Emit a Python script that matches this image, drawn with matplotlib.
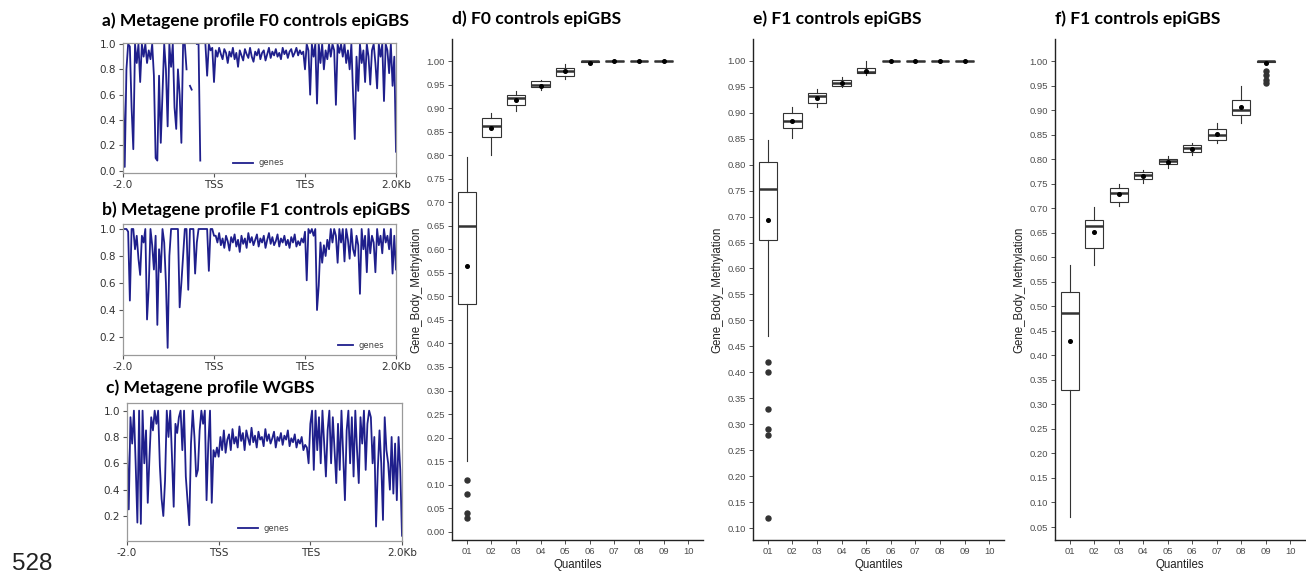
import numpy as np
import matplotlib
matplotlib.use("Agg")
import matplotlib.pyplot as plt

W, H = 1306, 577

# ---- metagene profiles (bins from -2.0 kb, TSS, TES to +2.0 kb) ----
prof_a = [0.67, 0.03, 0.8, 1.0, 0.98, 0.5, 0.17, 1.0, 0.85, 1.0,
          0.7, 1.0, 0.9, 1.0, 0.85, 0.95, 0.88, 1.0, 0.75, 0.1,
          0.08, 0.75, 0.22, 0.6, 1.0, 0.8, 0.35, 1.0, 0.82, 1.0,
          0.5, 0.33, 0.8, 0.6, 0.22, 1.0, 1.0, 0.8, np.nan, 0.67,
          0.64, np.nan, np.nan, 1.0, 1.0, 0.08, np.nan, np.nan, 1.0, 0.75,
          1.0, 0.95, 0.97, 0.7,
          0.95, 0.9, 0.97, 0.92, 0.88, 0.96, 0.93, 0.85, 0.94, 0.9,
          0.97, 0.88, 0.93, 0.82, 0.95, 0.91, 0.87, 0.96, 0.92, 0.89,
          0.97, 0.9, 0.86, 0.94, 0.91, 0.96, 0.88, 0.93, 0.95, 0.87,
          0.92, 0.97, 0.89, 0.94, 0.91, 0.96, 0.9, 0.93, 0.88, 0.97,
          0.92, 0.95, 0.89, 0.94, 0.96, 0.9, 0.93, 0.97, 0.91, 0.95,
          0.92, 0.94,
          0.8, 1.0, 0.95, 0.6, 1.0, 0.9, 1.0, 0.53, 1.0, 0.85,
          1.0, 0.8, 0.95, 0.88, 1.0, 0.9, 1.0, 0.95, 0.52, 1.0,
          0.93, 1.0, 0.9, 1.0, 0.85, 0.95, 0.8, 1.0, 0.6, 0.25,
          0.9, 0.63, 1.0, 0.85, 0.95, 0.7, 1.0, 0.9, 0.68, 0.95,
          1.0, 0.85, 0.65, 1.0, 0.9, 1.0, 0.55, 1.0, 0.95, 0.77,
          1.0, 0.67, 0.9, 0.15]

prof_b = [1.0, 1.0, 1.0, 0.98, 0.47, 1.0, 1.0, 0.85, 0.95, 0.78,
          0.66, 0.95, 0.9, 1.0, 0.33, 0.57, 1.0, 0.88, 0.7, 0.95,
          0.29, 0.85, 0.68, 1.0, 0.9, 0.6, 0.12, 0.8, 1.0, 1.0,
          1.0, 1.0, 1.0, 0.42, 0.6, 0.8, 1.0, 1.0, 0.55, 1.0,
          1.0, 1.0, 0.67, 0.9, 1.0, 1.0, 1.0, 1.0, 1.0, 1.0,
          0.69, 1.0, 1.0, 0.95,
          0.95, 0.9, 0.97, 0.88, 0.93, 0.86, 0.95, 0.91, 0.84, 0.94,
          0.9, 0.96, 0.87, 0.92, 0.83, 0.95, 0.89, 0.93, 0.86, 0.97,
          0.9, 0.94, 0.88, 0.92, 0.96, 0.87, 0.93, 0.9, 0.95, 0.86,
          0.92, 0.97, 0.89, 0.94, 0.88, 0.91, 0.96, 0.87, 0.93, 0.9,
          0.95, 0.88, 0.92, 0.86, 0.94, 0.9, 0.96, 0.87, 0.91, 0.88,
          0.93, 0.9,
          0.98, 0.62, 1.0, 0.97, 1.0, 0.95, 1.0, 0.4, 0.58, 0.9,
          0.75, 0.88, 0.8, 0.92, 0.85, 1.0, 0.9, 1.0, 0.95, 0.75,
          1.0, 0.9, 1.0, 0.76, 1.0, 0.92, 0.78, 1.0, 0.85, 0.8,
          0.95, 0.88, 0.52, 1.0, 0.85, 0.95, 0.68, 1.0, 0.82, 0.95,
          0.9, 0.68, 1.0, 0.88, 0.95, 0.82, 1.0, 0.9, 0.95, 0.85,
          1.0, 0.67, 0.95, 0.7]

prof_c = [0.75, 0.25, 0.95, 0.75, 1.0, 0.6, 0.15, 1.0, 0.14, 1.0,
          0.6, 0.85, 0.3, 0.65, 0.95, 0.85, 1.0, 0.9, 1.0, 0.58,
          0.33, 0.2, 0.47, 1.0, 0.8, 1.0, 0.65, 0.27, 0.9, 0.83,
          0.95, 1.0, 0.7, 1.0, 0.5, 0.32, 0.13, 0.75, 1.0, 0.8,
          0.5, 0.55, 0.85, 1.0, 0.9, 1.0, 0.32, 0.75, 1.0, 0.3,
          0.7, 0.65,
          0.72, 0.65, 0.8, 0.7, 0.85, 0.68, 0.78, 0.82, 0.7, 0.86,
          0.75, 0.8, 0.72, 0.88, 0.77, 0.83, 0.7, 0.85, 0.79, 0.74,
          0.87, 0.76, 0.81, 0.72, 0.84, 0.78, 0.8, 0.73, 0.86, 0.77,
          0.82, 0.75, 0.79, 0.84, 0.72, 0.8, 0.77, 0.83, 0.74, 0.81,
          0.78, 0.85, 0.73, 0.79, 0.76, 0.82, 0.72, 0.78, 0.75, 0.8,
          0.7, 0.74,
          0.72, 0.6, 0.9, 1.0, 0.55, 1.0, 0.7, 0.95, 0.6, 1.0,
          0.75, 0.5, 0.85, 1.0, 0.6, 0.95, 0.7, 0.45, 0.9, 0.55,
          1.0, 0.65, 0.32, 0.85, 1.0, 0.6, 0.95, 0.5, 1.0, 0.7,
          0.45, 0.95, 0.75, 1.0, 0.55, 0.9, 1.0, 0.95, 0.6, 0.8,
          0.12, 0.55, 0.85, 0.6, 0.17, 0.95, 0.7, 0.6, 0.4, 0.8,
          0.37, 0.75, 0.32, 0.8, 0.55, 0.05]

meta_ticks = ["-2.0", "TSS", "TES", "2.0Kb"]

# ---- gene body methylation per quantile (boxplot summaries) ----
quantiles = ["01", "02", "03", "04", "05", "06", "07", "08", "09", "10"]

d_q1 = [0.484, 0.839, 0.907, 0.945, 0.969, 0.998, 1.0, 1.0, 1.0]
d_med = [0.650, 0.863, 0.921, 0.950, 0.980, 1.0, 1.0, 1.0, 1.0]
d_q3 = [0.721, 0.880, 0.927, 0.957, 0.986, 1.0, 1.0, 1.0, 1.0]
d_lo = [0.151, 0.801, 0.894, 0.939, 0.963, 0.996, 1.0, 1.0, 1.0]
d_hi = [0.797, 0.889, 0.936, 0.960, 0.993, 1.0, 1.0, 1.0, 1.0]
d_mean = [0.565, 0.858, 0.917, 0.948, 0.978, 0.997, 1.0, 1.0, 1.0]
d_out = [[0.11, 0.08, 0.04, 0.03], [], [], [], [], [], [], [], []]

e_q1 = [0.655, 0.870, 0.918, 0.951, 0.976, 1.0, 1.0, 1.0, 1.0]
e_med = [0.754, 0.885, 0.932, 0.958, 0.979, 1.0, 1.0, 1.0, 1.0]
e_q3 = [0.805, 0.900, 0.938, 0.963, 0.987, 1.0, 1.0, 1.0, 1.0]
e_lo = [0.470, 0.852, 0.911, 0.949, 0.972, 1.0, 1.0, 1.0, 1.0]
e_hi = [0.847, 0.911, 0.946, 0.968, 0.999, 1.0, 1.0, 1.0, 1.0]
e_mean = [0.694, 0.885, 0.929, 0.957, 0.981, 1.0, 1.0, 1.0, 1.0]
e_out = [[0.42, 0.40, 0.33, 0.29, 0.28, 0.12], [], [], [], [], [], [], [], []]

f_q1 = [0.330, 0.619, 0.714, 0.759, 0.790, 0.816, 0.839, 0.890, 0.999]
f_med = [0.486, 0.664, 0.731, 0.769, 0.796, 0.823, 0.849, 0.901, 1.0]
f_q3 = [0.529, 0.677, 0.742, 0.775, 0.801, 0.830, 0.862, 0.921, 1.0]
f_lo = [0.070, 0.584, 0.704, 0.751, 0.783, 0.808, 0.834, 0.875, 0.998]
f_hi = [0.584, 0.702, 0.749, 0.779, 0.807, 0.834, 0.875, 0.950, 1.0]
f_mean = [0.430, 0.651, 0.729, 0.767, 0.795, 0.822, 0.851, 0.907, 0.996]
f_out = [[], [], [], [], [], [], [], [], [0.981, 0.972, 0.962, 0.955]]


def px_axes(fig, l, t, r, b):
    return fig.add_axes([l / W, 1 - b / H, (r - l) / W, (b - t) / H])


fig = plt.figure(figsize=(W / 100, H / 100), dpi=100)
fig.patch.set_facecolor("white")

title_font = dict(family="Lato", weight="bold", size=12.6, color="black")


def metagene(box, prof, ylim, yticks, title, title_y, leg_xy, handle_len):
    ax = px_axes(fig, *box)
    x = np.linspace(0, 3, len(prof))
    ax.plot(x, prof, color="#1f1f8c", lw=1.3, label="genes")
    ax.set_xlim(0, 3)
    ax.set_ylim(*ylim)
    ax.set_xticks([0, 1, 2, 3])
    ax.set_xticklabels(meta_ticks)
    ax.set_yticks(yticks)
    ax.set_yticklabels(["%.1f" % v for v in yticks])
    ax.tick_params(labelsize=7.5, labelcolor="#333333", color="#555555",
                   length=3, width=0.8, pad=2)
    for s in ax.spines.values():
        s.set_color("#9a9a9a")
        s.set_linewidth(0.9)
    ax.legend(loc="center left", bbox_to_anchor=leg_xy, frameon=False,
              fontsize=6, borderpad=0, borderaxespad=0,
              handlelength=handle_len, handletextpad=0.6,
              labelcolor="#444444")
    fig.text(box[0] / W - 0.016, 1 - title_y / H, title, va="center",
             ha="left", **title_font)
    return ax


metagene((123, 43, 396, 173), prof_a, (-0.018, 1.008),
         [0.0, 0.2, 0.4, 0.6, 0.8, 1.0],
         "a) Metagene profile F0 controls epiGBS", 21, (0.403, 0.077), 2.4)
metagene((123, 224, 396, 355), prof_b, (0.067, 1.037),
         [0.2, 0.4, 0.6, 0.8, 1.0],
         "b) Metagene profile F1 controls epiGBS", 210, (0.788, 0.076), 1.8)
metagene((127, 403, 402, 541), prof_c, (0.01, 1.058),
         [0.2, 0.4, 0.6, 0.8, 1.0],
         "c) Metagene profile WGBS", 388, (0.404, 0.094), 2.4)


def quant_box(box, q1, med, q3, lo, hi, mean, out, ylim, ytick0, title):
    ax = px_axes(fig, *box)
    stats = []
    for i in range(len(med)):
        stats.append(dict(q1=q1[i], med=med[i], q3=q3[i], whislo=lo[i],
                          whishi=hi[i], fliers=out[i], mean=mean[i]))
    pos = np.arange(1, len(med) + 1)
    ax.bxp(stats, positions=pos, widths=0.75, showcaps=False,
           showmeans=True, patch_artist=True,
           boxprops=dict(facecolor="white", edgecolor="#333333", lw=0.8),
           whiskerprops=dict(color="#333333", lw=0.8),
           medianprops=dict(color="#333333", lw=1.8),
           meanprops=dict(marker="o", markersize=2.6, markerfacecolor="black",
                          markeredgecolor="black"),
           flierprops=dict(marker="o", markersize=3.6, markerfacecolor="#333333",
                           markeredgecolor="#333333"))
    ax.set_xlim(0.4, 10.6)
    ax.set_ylim(*ylim)
    yt = np.arange(ytick0, 1.0001, 0.05)
    ax.set_yticks(yt)
    ax.set_yticklabels(["%.2f" % v for v in yt])
    ax.set_xticks(np.arange(1, len(quantiles) + 1))
    ax.set_xticklabels(quantiles)
    for lab in ax.get_xticklabels() + ax.get_yticklabels():
        lab.set_family("Liberation Sans")
    ax.tick_params(labelsize=6.8, labelcolor="#4d4d4d", color="#333333",
                   length=3, width=0.6, pad=2)
    ax.spines["top"].set_visible(False)
    ax.spines["right"].set_visible(False)
    for s in ("left", "bottom"):
        ax.spines[s].set_color("#222222")
        ax.spines[s].set_linewidth(1.0)
    ax.set_xlabel("Quantiles", family="Liberation Sans", size=8.3,
                  color="#222222", labelpad=2)
    ax.set_ylabel("Gene_Body_Methylation", family="Liberation Sans", size=8.3,
                  color="#222222", labelpad=3)
    fig.text(box[0] / W, 1 - 19 / H, title, va="center", ha="left",
             **title_font)
    return ax


quant_box((452, 39, 703, 540), d_q1, d_med, d_q3, d_lo, d_hi, d_mean, d_out,
          (-0.0177, 1.047), 0.0, "d) F0 controls epiGBS")
quant_box((753, 39, 1004, 540), e_q1, e_med, e_q3, e_lo, e_hi, e_mean, e_out,
          (0.077, 1.042), 0.10, "e) F1 controls epiGBS")
quant_box((1055, 39, 1305, 540), f_q1, f_med, f_q3, f_lo, f_hi, f_mean, f_out,
          (0.0235, 1.0455), 0.05, "f) F1 controls epiGBS")

fig.text(12 / W, 1 - 564 / H, "528", family="Liberation Sans", size=17.5,
         color="#222222", va="center", ha="left")

fig.savefig("out.png", dpi=100)
